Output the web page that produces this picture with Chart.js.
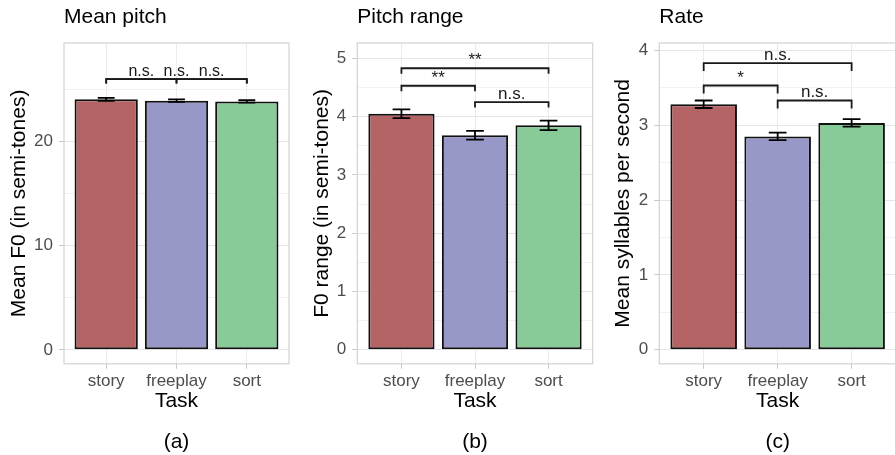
<!DOCTYPE html>
<html>
<head>
<meta charset="utf-8">
<script src="https://cdn.jsdelivr.net/npm/chart.js@4/dist/chart.umd.min.js"></script>
<style>
  html, body { margin: 0; padding: 0; background: #fff; overflow: hidden; }
  body { width: 895px; height: 455px; position: relative; }
  .panel { position: absolute; top: 0; height: 455px; }
</style>
</head>
<body>
<div class="panel" style="left:0px;width:298px"><canvas id="graficoA"></canvas></div>
<div class="panel" style="left:298px;width:299px"><canvas id="graficoB"></canvas></div>
<div class="panel" style="left:597px;width:300px"><canvas id="graficoC"></canvas></div>
<script>
const tasks = ["story", "freeplay", "sort"];
const barColors = ["#b46464", "#9898c8", "#88ca98"];

// (a) mean pitch
const meanPitch = [24.05, 23.92, 23.85];
const meanPitchSe = [0.15, 0.12, 0.12];
const meanPitchTicks = [0, 10, 20];
const meanPitchMinor = [5, 15, 25];
const meanPitchSig = [
  [1, 2, 26.0, "n.s."],
  [2, 3, 26.0, "n.s."],
  [1, 3, 26.0, "n.s."],
];

// (b) pitch range
const pitchRange = [4.05, 3.68, 3.85];
const pitchRangeSe = [0.075, 0.075, 0.08];
const pitchRangeTicks = [0, 1, 2, 3, 4, 5];
const pitchRangeMinor = [0.5, 1.5, 2.5, 3.5, 4.5];
const pitchRangeSig = [
  [1, 3, 4.83, "**"],
  [1, 2, 4.53, "**"],
  [2, 3, 4.25, "n.s."],
];

// (c) rate
const rate = [3.28, 2.85, 3.03];
const rateSe = [0.05, 0.05, 0.05];
const rateTicks = [0, 1, 2, 3, 4];
const rateMinor = [0.5, 1.5, 2.5, 3.5];
const rateSig = [
  [1, 3, 3.83, "n.s."],
  [1, 2, 3.53, "*"],
  [2, 3, 3.33, "n.s."],
];

const FONT = "'Liberation Sans', Arial, Helvetica, sans-serif";

// barras de erro, colchetes de significancia e borda do painel
const extrasPlugin = {
  id: "extras",
  afterDatasetsDraw(chart, args, opts) {
    const { ctx, chartArea } = chart;
    const x = chart.scales.x;
    const y = chart.scales.y;
    ctx.save();

    // error bars
    ctx.strokeStyle = "#000";
    ctx.lineWidth = 1.8;
    const capHalf = x.getPixelForValue(1.12) - x.getPixelForValue(1);
    opts.values.forEach((v, i) => {
      const px = x.getPixelForValue(i + 1);
      const top = y.getPixelForValue(v + opts.se[i]);
      const bot = y.getPixelForValue(v - opts.se[i]);
      ctx.beginPath();
      ctx.moveTo(px, top);
      ctx.lineTo(px, bot);
      ctx.moveTo(px - capHalf, top);
      ctx.lineTo(px + capHalf, top);
      ctx.moveTo(px - capHalf, bot);
      ctx.lineTo(px + capHalf, bot);
      ctx.stroke();
    });

    // significance brackets
    ctx.strokeStyle = "#1a1a1a";
    ctx.fillStyle = "#1a1a1a";
    ctx.lineWidth = 1.8;
    ctx.font = opts.sigFont + "px " + FONT;
    ctx.textAlign = "center";
    ctx.textBaseline = "alphabetic";
    opts.sig.forEach(([a, b, h, label]) => {
      const x1 = x.getPixelForValue(a);
      const x2 = x.getPixelForValue(b);
      const py = y.getPixelForValue(h);
      ctx.beginPath();
      ctx.moveTo(x1, py + opts.tip);
      ctx.lineTo(x1, py);
      ctx.lineTo(x2, py);
      ctx.lineTo(x2, py + opts.tip);
      ctx.stroke();
      ctx.fillText(label, (x1 + x2) / 2, py - 3);
    });

    // panel border
    ctx.strokeStyle = "#d2d2d2";
    ctx.lineWidth = 1.2;
    ctx.strokeRect(
      chartArea.left,
      chartArea.top,
      chartArea.right - chartArea.left,
      chartArea.bottom - chartArea.top
    );
    ctx.restore();
  },
};

function criarGrafico(canvasId, cfg) {
  const majors = cfg.ticks;
  const allTicks = majors.concat(cfg.minor).sort((a, b) => a - b);
  const isMajor = (v) => majors.some((m) => Math.abs(m - v) < 1e-9);

  return new Chart(document.getElementById(canvasId), {
    type: "bar",
    data: {
      datasets: [
        {
          data: cfg.values.map((v, i) => ({ x: i + 1, y: v })),
          backgroundColor: barColors,
          borderColor: "#111",
          borderWidth: 2,
          borderSkipped: false,
          barPercentage: 0.9,
          categoryPercentage: 1,
        },
      ],
    },
    options: {
      responsive: true,
      maintainAspectRatio: false,
      animation: false,
      layout: { padding: { left: 0, right: cfg.padRight, top: 0, bottom: 0 } },
      plugins: {
        legend: { display: false },
        tooltip: { enabled: false },
        title: {
          display: true,
          text: cfg.title,
          align: "start",
          fullSize: false,
          color: "#000",
          font: { family: FONT, size: 21, weight: "normal", lineHeight: 1.2 },
          padding: { top: 5, bottom: 12.8 },
        },
        subtitle: {
          display: true,
          text: cfg.letter,
          position: "bottom",
          fullSize: false,
          color: "#000",
          font: { family: FONT, size: 21, weight: "normal", lineHeight: 1.2 },
          padding: { top: 0, bottom: 0.5 },
        },
        extras: {
          values: cfg.values,
          se: cfg.se,
          sig: cfg.sig,
          tip: cfg.tip,
          sigFont: cfg.sigFont,
        },
      },
      scales: {
        x: {
          type: "linear",
          min: 0.4,
          max: 3.6,
          offset: false,
          afterBuildTicks: (scale) => {
            scale.ticks = tasks.map((t, i) => ({ value: i + 1 }));
          },
          afterFit: (scale) => {
            scale.height = 65.5;
          },
          ticks: {
            callback: (value) => tasks[value - 1] || "",
            color: "#4d4d4d",
            font: { family: FONT, size: 17 },
            padding: 2,
            maxRotation: 0,
            autoSkip: false,
          },
          grid: {
            offset: false,
            color: "#ebebeb",
            lineWidth: 1,
            tickLength: 5,
            tickColor: "#c8c8c8",
          },
          border: { display: false },
          title: {
            display: true,
            text: "Task",
            color: "#000",
            font: { family: FONT, size: 21, lineHeight: 1.2 },
            padding: { top: 0, bottom: 15 },
          },
        },
        y: {
          min: cfg.min,
          max: cfg.max,
          afterBuildTicks: (scale) => {
            scale.ticks = allTicks.map((v) => ({ value: v }));
          },
          afterFit: (scale) => {
            scale.width = cfg.axisWidth;
          },
          ticks: {
            callback: (value) => (isMajor(value) ? String(value) : ""),
            color: "#4d4d4d",
            font: { family: FONT, size: 17 },
            padding: 6,
            autoSkip: false,
          },
          grid: {
            color: (ctx) => (ctx.tick && isMajor(ctx.tick.value) ? "#e6e6e6" : "#f2f2f2"),
            lineWidth: 1,
            tickLength: 5,
            tickColor: (ctx) =>
              ctx.tick && isMajor(ctx.tick.value) ? "#c8c8c8" : "rgba(0,0,0,0)",
          },
          border: { display: false },
          title: {
            display: true,
            text: cfg.yTitle,
            color: "#000",
            font: { family: FONT, size: 21, lineHeight: 1.2 },
            padding: { top: cfg.yTitlePad, bottom: 0 },
          },
        },
      },
    },
    plugins: [extrasPlugin],
  });
}

document.addEventListener("DOMContentLoaded", function () {
  criarGrafico("graficoA", {
    title: "Mean pitch",
    letter: "(a)",
    yTitle: "Mean F0 (in semi-tones)",
    values: meanPitch,
    se: meanPitchSe,
    ticks: meanPitchTicks,
    minor: meanPitchMinor,
    sig: meanPitchSig,
    min: -1.34,
    max: 29.46,
    axisWidth: 64,
    yTitlePad: 6.5,
    padRight: 9,
    tip: 4.5,
    sigFont: 16,
  });

  criarGrafico("graficoB", {
    title: "Pitch range",
    letter: "(b)",
    yTitle: "F0 range (in semi-tones)",
    values: pitchRange,
    se: pitchRangeSe,
    ticks: pitchRangeTicks,
    minor: pitchRangeMinor,
    sig: pitchRangeSig,
    min: -0.24,
    max: 5.263,
    axisWidth: 59.3,
    yTitlePad: 11.5,
    padRight: 4.3,
    tip: 5.5,
    sigFont: 17,
  });

  criarGrafico("graficoC", {
    title: "Rate",
    letter: "(c)",
    yTitle: "Mean syllables per second",
    values: rate,
    se: rateSe,
    ticks: rateTicks,
    minor: rateMinor,
    sig: rateSig,
    min: -0.187,
    max: 4.098,
    axisWidth: 62.3,
    yTitlePad: 14,
    padRight: 1,
    tip: 8,
    sigFont: 17,
  });
});
</script>
</body>
</html>
